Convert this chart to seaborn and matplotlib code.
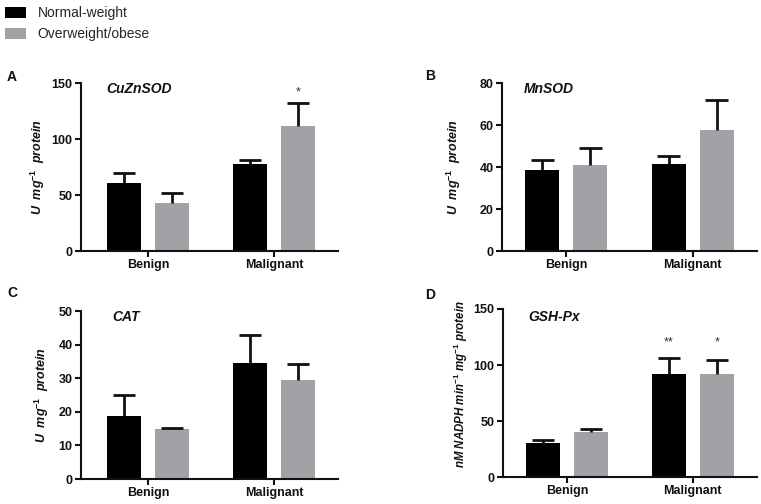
import numpy as np
import pandas as pd
import matplotlib
matplotlib.use("Agg")
import matplotlib.pyplot as plt
import matplotlib.patches as mpatches
import seaborn as sns

# ---------------- data ----------------
categories = ["Benign", "Malignant"]
groups = ["Normal-weight", "Overweight/obese"]

cuznsod_normal = [61.0, 78.0]
cuznsod_normal_err = [8.6, 3.0]
cuznsod_over = [43.0, 112.0]
cuznsod_over_err = [8.5, 20.0]

mnsod_normal = [38.7, 41.4]
mnsod_normal_err = [4.5, 4.0]
mnsod_over = [41.0, 57.6]
mnsod_over_err = [8.0, 14.4]

cat_normal = [18.75, 34.4]
cat_normal_err = [6.15, 8.4]
cat_over = [14.9, 29.6]
cat_over_err = [0.3, 4.7]

gshpx_normal = [30.4, 92.3]
gshpx_normal_err = [2.9, 13.7]
gshpx_over = [39.9, 92.3]
gshpx_over_err = [3.3, 11.9]

panel_titles = ["CuZnSOD", "MnSOD", "CAT", "GSH-Px"]
panel_letters = ["A", "B", "C", "D"]
ylabels = [r"U  mg$^{-1}$  protein", r"U  mg$^{-1}$  protein",
           r"U  mg$^{-1}$  protein",
           r"nM NADPH min$^{-1}$ mg$^{-1}$ protein"]
ymax = [150, 80, 50, 150]
ystep = [50, 20, 10, 50]
# significance marks: (category index, group index, text)
stars = [[(1, 1, "*")], [], [], [(1, 0, "**"), (1, 1, "*")]]
star_y = [142, None, None, 120]

colors = ["#000000", "#a2a2a6"]

# ---------------- style ----------------
sns.set_style("ticks")
plt.rcParams["font.family"] = ["Liberation Sans", "DejaVu Sans"]
plt.rcParams["mathtext.fontset"] = "custom"
plt.rcParams["mathtext.it"] = "Liberation Sans:italic:bold"
plt.rcParams["mathtext.rm"] = "Liberation Sans:bold"
plt.rcParams["mathtext.bf"] = "Liberation Sans:bold"

W, H = 761, 504
fig = plt.figure(figsize=(W / 100, H / 100), dpi=100)

# axes boxes in pixel units: (left, top, right, bottom)
boxes = [(81, 83, 338, 251), (502, 83, 757, 251),
         (81, 311, 338, 479), (503, 309, 757, 477)]
xlims = [(-0.532, 1.508), (-0.51, 1.51), (-0.532, 1.508), (-0.51, 1.51)]
ylabel_x = [-0.132, -0.153, -0.117, -0.13]
ylabel_y = [0.5, 0.5, 0.5, 0.55]
ylabel_size = [9, 9, 9, 8.3]
title_pos = [(0.10, 0.965), (0.086, 0.965), (0.12, 0.965), (0.098, 0.955)]
letter_pos = [(12, 77), (430, 76), (12, 293), (430, 295)]

panels = [
    (cuznsod_normal, cuznsod_normal_err, cuznsod_over, cuznsod_over_err),
    (mnsod_normal, mnsod_normal_err, mnsod_over, mnsod_over_err),
    (cat_normal, cat_normal_err, cat_over, cat_over_err),
    (gshpx_normal, gshpx_normal_err, gshpx_over, gshpx_over_err),
]

ink = "#111111"

for k, (mn, mn_e, ov, ov_e) in enumerate(panels):
    l, t, r, b = boxes[k]
    ax = fig.add_axes([l / W, 1 - b / H, (r - l) / W, (b - t) / H])
    df = pd.DataFrame({
        "category": categories * 2,
        "group": [groups[0]] * 2 + [groups[1]] * 2,
        "value": list(mn) + list(ov),
        "err": list(mn_e) + list(ov_e),
    })
    sns.barplot(data=df, x="category", y="value", hue="group",
                hue_order=groups, order=categories, palette=colors,
                errorbar=None, width=0.76, gap=0.29, saturation=1,
                legend=False, ax=ax, linewidth=0)
    # error bars (upper only), mapped by sorted bar positions
    bars = sorted(ax.patches, key=lambda p: p.get_x())
    order_keys = [(0, 0), (0, 1), (1, 0), (1, 1)]
    xpos = {}
    for p, (ci, gi) in zip(bars, order_keys):
        xc = p.get_x() + p.get_width() / 2
        xpos[(ci, gi)] = xc
        row = df[(df["category"] == categories[ci]) & (df["group"] == groups[gi])].iloc[0]
        top = row["value"] + row["err"]
        ax.vlines(xc, row["value"], top, color=ink, linewidth=2.0, zorder=3)
        hw = p.get_width() * 0.33
        ax.hlines(top, xc - hw, xc + hw, color=ink, linewidth=2.0, zorder=3)
    for ci, gi, s in stars[k]:
        ax.text(xpos[(ci, gi)], star_y[k], s, ha="center", va="center",
                fontsize=9, color="#333333")

    ax.set_xlim(*xlims[k])
    ax.set_ylim(0, ymax[k])
    ax.set_yticks(np.arange(0, ymax[k] + 1, ystep[k]))
    sns.despine(ax=ax)
    for sp in ["left", "bottom"]:
        ax.spines[sp].set_linewidth(1.5)
        ax.spines[sp].set_color(ink)
    ax.tick_params(axis="both", length=4, width=1.5, color=ink,
                   labelsize=9, pad=2)
    for lab in ax.get_xticklabels() + ax.get_yticklabels():
        lab.set_fontweight("bold")
        lab.set_color(ink)
    ax.set_xlabel("")
    ax.set_ylabel(ylabels[k], fontsize=ylabel_size[k], fontweight="bold",
                  style="italic", color=ink)
    ax.yaxis.set_label_coords(ylabel_x[k], ylabel_y[k])
    ax.text(title_pos[k][0], title_pos[k][1], panel_titles[k],
            transform=ax.transAxes, ha="left", va="center", fontsize=10,
            fontweight="bold", style="italic", color=ink)
    fig.text(letter_pos[k][0] / W, 1 - letter_pos[k][1] / H, panel_letters[k],
             ha="center", va="center", fontsize=10, fontweight="bold",
             color=ink)

handles = [mpatches.Patch(facecolor=c, edgecolor="none") for c in colors]
fig.legend(handles, groups, loc="upper left", bbox_to_anchor=(0.0, 0.997),
           frameon=False, fontsize=10, handlelength=1.55, handleheight=0.75,
           handletextpad=0.8, labelspacing=0.5, borderaxespad=0.0,
           borderpad=0.35)

fig.savefig("out.png", dpi=100)
